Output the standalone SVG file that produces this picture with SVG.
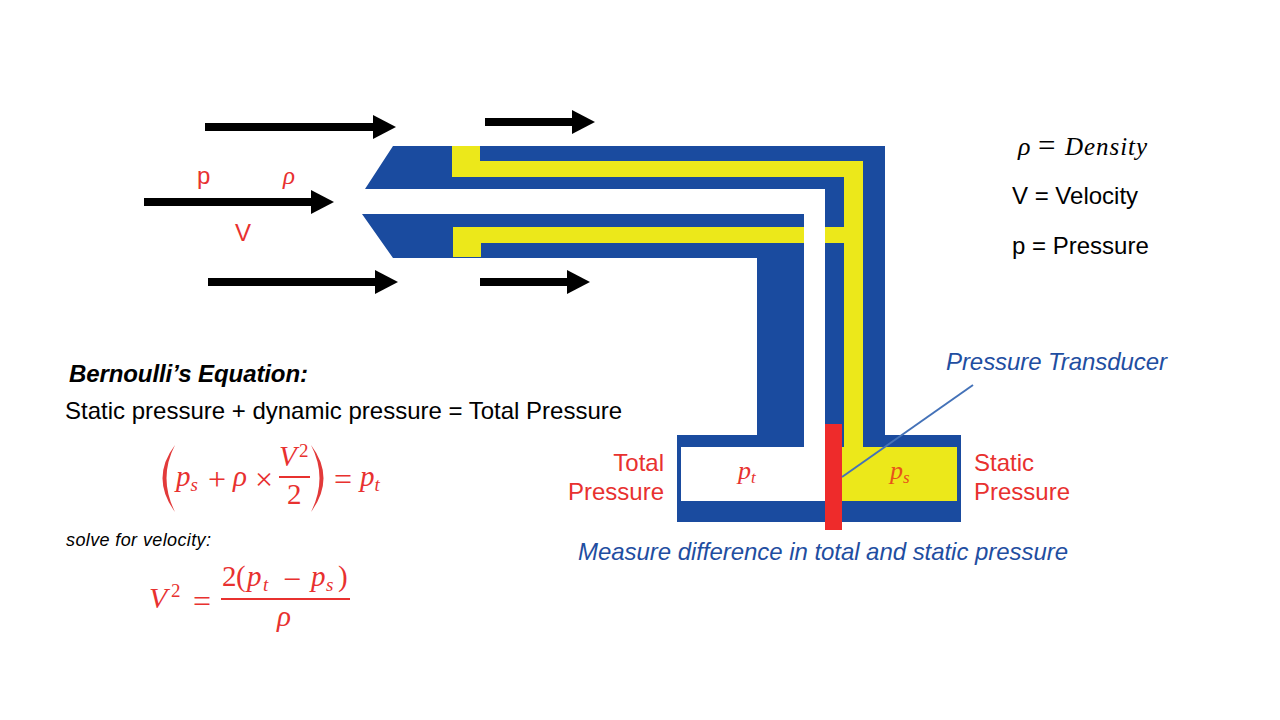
<svg xmlns="http://www.w3.org/2000/svg" width="1280" height="720" viewBox="0 0 1280 720">
<style>
.s{font-family:"Liberation Sans",Arial,sans-serif;font-size:24px}
.m{font-family:"Liberation Serif","DejaVu Serif",serif;font-style:italic;font-size:29px}
.u{font-family:"Liberation Serif","DejaVu Serif",serif;font-size:29px}
.op{font-size:32px}
.sub{font-size:19px}
.r{fill:#e8312f}.k{fill:#000}.b{fill:#1f4ea1}
.bl{fill:#1a4b9f}.y{fill:#ece81a}.w{fill:#fff}
.ar{stroke:#000;stroke-width:8;fill:none;marker-end:url(#h)}
.pn{fill:#e23a3a}
</style>
<defs><marker id="h" markerUnits="userSpaceOnUse" markerWidth="23" markerHeight="24" refX="0" refY="12" orient="auto"><path d="M0 0L23 12L0 24Z" fill="#000"/></marker></defs>
<rect width="1280" height="720" fill="#fff"/>
<g id="probe">
<path class="bl" d="M393 146H885V435H961V522H677V435H757V258H393L362 214H804V189H365Z"/>
<rect class="w" x="681" y="447" width="144" height="54"/>
<rect class="w" x="804" y="189" width="21" height="258"/>
<path class="y" d="M452 146H480V161H863V447H957V501H842V447H844V243H825V227H844V177H452Z"/>
<path class="y" d="M453 227H804V243H481V257H453Z"/>
<rect x="825" y="424" width="17" height="106" fill="#ee2b2b"/>
</g>
<g id="connectors">
<line class="ar" x1="205" y1="127" x2="373" y2="127"/>
<line class="ar" x1="485" y1="122" x2="572" y2="122"/>
<line class="ar" x1="144" y1="202" x2="311" y2="202"/>
<line class="ar" x1="208" y1="282" x2="375" y2="282"/>
<line class="ar" x1="480" y1="282" x2="567" y2="282"/>
<line x1="842" y1="477" x2="973" y2="385" stroke="#4472b8" stroke-width="2"/>
</g>
<g id="flow-labels">
<text class="s r" x="197" y="184">p</text>
<text class="m r" x="283" y="184" style="font-size:25px">ρ</text>
<text class="s r" x="235" y="241">V</text>
</g>
<g id="legend">
<text class="m k" x="1018" y="155" style="font-size:26px">ρ</text>
<text class="u k" x="1038" y="156" style="font-size:31px">=</text>
<text class="m k" x="1065" y="155" style="font-size:25px" textLength="82">Density</text>
<text class="s k" x="1012" y="204">V = Velocity</text>
<text class="s k" x="1012" y="254">p = Pressure</text>
</g>
<g id="bernoulli">
<text class="s k" x="69" y="382" font-weight="bold" font-style="italic" textLength="239">Bernoulli’s Equation:</text>
<text class="s k" x="65" y="419">Static pressure + dynamic pressure = Total Pressure</text>
<path class="pn" d="M175 445Q150 478 175 512Q158 478 175 445Z"/>
<path class="pn" d="M311 445Q336 478 311 512Q328 478 311 445Z"/>
<text class="m r" x="176" y="486">p<tspan class="sub" dy="5">s</tspan></text>
<text class="u r op" x="208" y="490">+</text>
<text class="m r" x="233" y="486">ρ</text>
<text class="u r op" x="255" y="490">×</text>
<text class="m r" x="279" y="466">V</text>
<text class="u r sub" x="299" y="457">2</text>
<rect x="279" y="476" width="31" height="2" class="r"/>
<text class="u r" x="287" y="504">2</text>
<text class="u r op" x="334" y="490">=</text>
<text class="m r" x="360" y="486">p<tspan class="sub" dy="5">t</tspan></text>
<text class="s k" x="66" y="546" font-style="italic" style="font-size:18px" textLength="145">solve for velocity:</text>
<text class="m r" x="149" y="608" style="font-size:30px">V</text>
<text class="u r sub" x="171" y="597">2</text>
<text class="u r op" x="193" y="612">=</text>
<text class="u r" x="222" y="586">2</text>
<text class="u r" x="236" y="586">(</text>
<text class="m r" x="247" y="586">p</text>
<text class="m r sub" x="263" y="591">t</text>
<text class="u r op" x="283" y="590">−</text>
<text class="m r" x="311" y="586">p</text>
<text class="m r sub" x="326" y="591">s</text>
<text class="u r" x="338" y="586">)</text>
<rect x="221" y="598" width="129" height="2" class="r"/>
<text class="m r" x="277" y="626">ρ</text>
</g>
<g id="transducer-labels">
<text class="s b" x="946" y="370" font-style="italic" textLength="221">Pressure Transducer</text>
<text class="s r" x="664" y="471" text-anchor="end">Total</text>
<text class="s r" x="664" y="500" text-anchor="end">Pressure</text>
<text class="s r" x="974" y="471">Static</text>
<text class="s r" x="974" y="500">Pressure</text>
<text class="m r" x="738" y="479" style="font-size:26px">p<tspan class="sub" dy="4" style="font-size:17px">t</tspan></text>
<text class="m" x="890" y="479" style="font-size:26px" fill="#e8531a">p<tspan dy="4" style="font-size:17px">s</tspan></text>
<text class="s b" x="578" y="560" font-style="italic" textLength="490">Measure difference in total and static pressure</text>
</g>
</svg>
